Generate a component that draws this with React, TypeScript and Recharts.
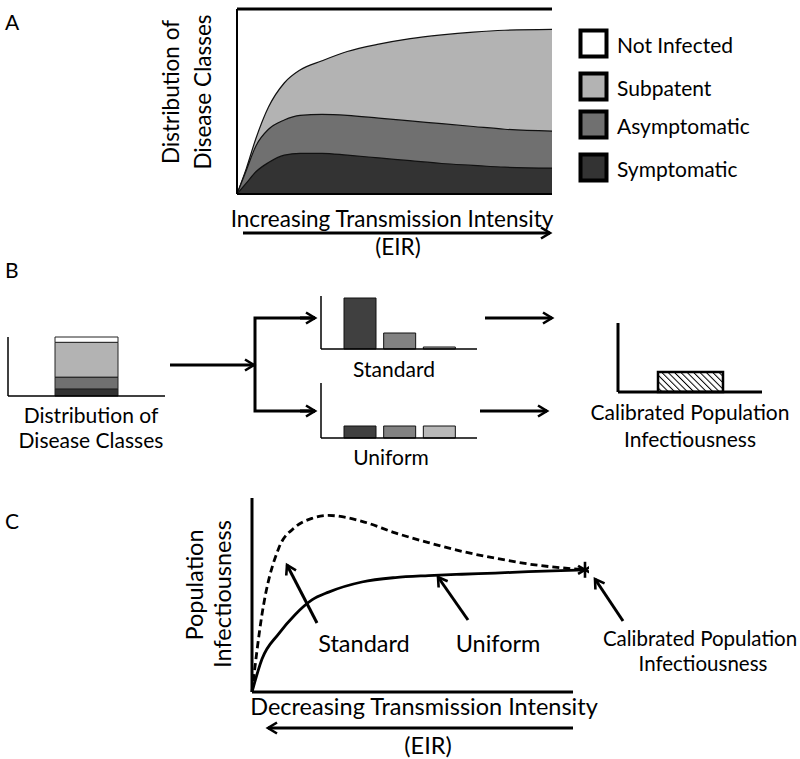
import React from 'react';
import {
  AreaChart, Area, BarChart, Bar, LineChart, Line, XAxis, YAxis, Cell,
  ReferenceLine, ReferenceDot,
} from 'recharts';

// Panel A: share of each disease class (upper edge of each band, %) vs EIR
const eir = [0, 3, 6, 10, 15, 20, 27, 35, 45, 55, 65, 75, 85, 100];
const notInfectedTop = [100, 100, 100, 100, 100, 100, 100, 100, 100, 100, 100, 100, 100, 100];
const subpatentTop = [0, 14, 30, 47, 60, 67, 72, 77, 81, 84, 86, 87.5, 88.5, 89];
const asymptomaticTop = [0, 13, 26, 35, 40, 42.5, 43, 42.5, 41, 39.5, 38, 36.5, 35, 34];
const symptomaticTop = [0, 6, 12, 17, 21, 22, 22, 21, 19.5, 18, 16.5, 15.5, 14.5, 14];

const classNames = ['Not Infected', 'Subpatent', 'Asymptomatic', 'Symptomatic'];
const classColors = ['#ffffff', '#b3b3b3', '#707070', '#333333'];

// Panel B: one distribution (stacked, %)
const distSymptomatic = 12;
const distAsymptomatic = 20;
const distSubpatent = 59;
const distNotInfected = 9;

// Panel B: infectiousness weights per class
const weightClasses = ['Symptomatic', 'Asymptomatic', 'Subpatent'];
const weightColors = ['#404040', '#828282', '#b8b8b8'];
const standardWeights = [51, 16, 2];
const uniformWeights = [12, 12, 12];
const calibratedValue = 20;

// Panel C: population infectiousness vs (decreasing) EIR
const cx = [0, 3, 8, 13, 18, 23, 33, 43, 53, 63, 73, 83, 100];
const standardCurve = [0, 40, 74, 85, 89.5, 91, 88, 82, 77, 72.5, 69, 66, 63];
const uniformCurve = [0, 17, 30, 40, 47.5, 51.5, 56.7, 59, 60, 60.7, 61.3, 62, 63];

const FONT = 'Lato, "Open Sans", sans-serif';

const areaData = eir.map((x, i) => ({
  eir: x,
  notInfected: notInfectedTop[i],
  subpatent: subpatentTop[i],
  asymptomatic: asymptomaticTop[i],
  symptomatic: symptomaticTop[i],
}));

const distData = [{
  name: 'dist',
  symptomatic: distSymptomatic,
  asymptomatic: distAsymptomatic,
  subpatent: distSubpatent,
  notInfected: distNotInfected,
}];

const standardData = weightClasses.map((c, i) => ({ name: c, value: standardWeights[i] }));
const uniformData = weightClasses.map((c, i) => ({ name: c, value: uniformWeights[i] }));
const calibratedData = [{ name: 'calibrated', value: calibratedValue }];

const lineData = cx.map((x, i) => ({ x, standard: standardCurve[i], uniform: uniformCurve[i] }));

const M = { top: 4, right: 4, bottom: 4, left: 4 };
// bar charts carry a 1px visible axis on left and bottom
const MB = { top: 4, right: 4, bottom: 3, left: 3 };

function Star(props: any) {
  const { cx: x, cy: y } = props;
  const r = 8;
  const lines = [90, 30, -30].map((a) => {
    const rad = (a * Math.PI) / 180;
    return { dx: Math.cos(rad) * r, dy: Math.sin(rad) * r };
  });
  return (
    <g stroke="#000" strokeWidth={2.6}>
      {lines.map((l, i) => (
        <line key={i} x1={x - l.dx} y1={y - l.dy} x2={x + l.dx} y2={y + l.dy} />
      ))}
    </g>
  );
}

function WeightChart({ data, top, max }: { data: any[]; top: number; max: number }) {
  return (
    <div style={{ position: 'absolute', left: 317, top }}>
      <BarChart width={164} height={max + 8} data={data} margin={MB} barSize={32}>
        <XAxis dataKey="name" tick={false} tickLine={false} height={1} padding={{ left: 19, right: 18 }}
          axisLine={{ stroke: '#000', strokeWidth: 1.5 }} />
        <YAxis domain={[0, max]} tick={false} tickLine={false} width={1}
          axisLine={{ stroke: '#000', strokeWidth: 1.5 }} />
        <Bar dataKey="value" isAnimationActive={false} stroke="#111" strokeWidth={1}>
          {data.map((d, i) => <Cell key={d.name} fill={weightColors[i]} />)}
        </Bar>
      </BarChart>
    </div>
  );
}

export default function App() {
  const t = { fontFamily: FONT, fontSize: 21, fill: '#000' } as const;
  const tA = { ...t, fontSize: 22.5 };
  const tC = { ...t, fontSize: 23.5 };
  return (
    <div style={{ position: 'absolute', left: 0, top: 0, width: 800, height: 759, background: '#fff' }}>
      {/* Panel A */}
      <div style={{ position: 'absolute', left: 233, top: 5 }}>
        <AreaChart width={323} height={193} data={areaData} margin={M}>
          <XAxis type="number" dataKey="eir" domain={[0, 100]} hide />
          <YAxis domain={[0, 100]} hide />
          <Area type="monotone" dataKey="notInfected" fill={classColors[0]} fillOpacity={1}
            stroke="#000" strokeWidth={3} isAnimationActive={false} />
          <Area type="monotone" dataKey="subpatent" fill={classColors[1]} fillOpacity={1}
            stroke="#111" strokeWidth={1.2} isAnimationActive={false} />
          <Area type="monotone" dataKey="asymptomatic" fill={classColors[2]} fillOpacity={1}
            stroke="#111" strokeWidth={1.2} isAnimationActive={false} />
          <Area type="monotone" dataKey="symptomatic" fill={classColors[3]} fillOpacity={1}
            stroke="#111" strokeWidth={1.2} isAnimationActive={false} />
          <ReferenceLine x={0} stroke="#000" strokeWidth={2} />
          <ReferenceLine y={0} stroke="#000" strokeWidth={2} />
        </AreaChart>
      </div>

      {/* Panel B: distribution */}
      <div style={{ position: 'absolute', left: 4, top: 333 }}>
        <BarChart width={165} height={67} data={distData} margin={MB} barSize={63}>
          <XAxis dataKey="name" tick={false} tickLine={false} height={1}
            axisLine={{ stroke: '#000', strokeWidth: 1.5 }} />
          <YAxis domain={[0, 100]} tick={false} tickLine={false} width={1}
            axisLine={{ stroke: '#000', strokeWidth: 1.5 }} />
          <Bar dataKey="symptomatic" stackId="d" fill={classColors[3]} stroke="#222" strokeWidth={1} isAnimationActive={false} />
          <Bar dataKey="asymptomatic" stackId="d" fill={classColors[2]} stroke="#222" strokeWidth={1} isAnimationActive={false} />
          <Bar dataKey="subpatent" stackId="d" fill={classColors[1]} stroke="#222" strokeWidth={1} isAnimationActive={false} />
          <Bar dataKey="notInfected" stackId="d" fill={classColors[0]} stroke="#222" strokeWidth={1} isAnimationActive={false} />
        </BarChart>
      </div>

      <WeightChart data={standardData} top={292} max={53} />
      <WeightChart data={uniformData} top={379} max={55} />

      {/* Panel B: calibrated */}
      <div style={{ position: 'absolute', left: 614, top: 319 }}>
        <BarChart width={152} height={77} data={calibratedData} margin={MB} barSize={65}>
          <defs>
            <pattern id="hatch" patternUnits="userSpaceOnUse" width={4.5} height={4.5} patternTransform="rotate(-45)">
              <rect width={4.5} height={4.5} fill="#fff" />
              <line x1={0} y1={0} x2={0} y2={4.5} stroke="#000" strokeWidth={2} />
            </pattern>
          </defs>
          <XAxis dataKey="name" tick={false} tickLine={false} height={1}
            axisLine={{ stroke: '#000', strokeWidth: 3 }} />
          <YAxis domain={[0, 69]} tick={false} tickLine={false} width={1}
            axisLine={{ stroke: '#000', strokeWidth: 3 }} />
          <Bar dataKey="value" fill="url(#hatch)" stroke="#000" strokeWidth={2.5} isAnimationActive={false} />
        </BarChart>
      </div>

      {/* Panel C */}
      <div style={{ position: 'absolute', left: 248, top: 494 }}>
        <LineChart width={341} height={202} data={lineData} margin={M}>
          <XAxis type="number" dataKey="x" domain={[0, 100]} hide />
          <YAxis domain={[0, 100]} hide />
          <ReferenceLine x={0} stroke="#000" strokeWidth={3} />
          <ReferenceLine segment={[{ x: 0, y: 0 }, { x: 96.4, y: 0 }]} stroke="#000" strokeWidth={3} />
          <Line type="monotone" dataKey="standard" stroke="#000" strokeWidth={2.8} strokeDasharray="7 4"
            dot={false} isAnimationActive={false} />
          <Line type="monotone" dataKey="uniform" stroke="#000" strokeWidth={2.8}
            dot={false} isAnimationActive={false} />
          <ReferenceDot x={100} y={uniformCurve[uniformCurve.length - 1]} r={8} shape={Star} />
        </LineChart>
      </div>

      {/* Labels, legend and arrows */}
      <svg width={800} height={759} style={{ position: 'absolute', left: 0, top: 0, pointerEvents: 'none' }}>
        <defs>
          <marker id="head" markerUnits="userSpaceOnUse" markerWidth={14} markerHeight={14}
            refX={11} refY={7} orient="auto">
            <path d="M2,1.5 L11,7 L2,12.5" fill="none" stroke="#000" strokeWidth={2.6} />
          </marker>
        </defs>

        <text x={5} y={30} {...t}>A</text>
        <text x={5} y={278} {...t}>B</text>
        <text x={5} y={529} {...t}>C</text>

        {/* A */}
        <text transform="translate(179,92) rotate(-90)" textAnchor="middle" {...tA}>Distribution of</text>
        <text transform="translate(211,92) rotate(-90)" textAnchor="middle" {...tA}>Disease Classes</text>
        <text x={392} y={227} textAnchor="middle" {...tA}>Increasing Transmission Intensity</text>
        <line x1={243} y1={233} x2={550} y2={233} stroke="#000" strokeWidth={3} markerEnd="url(#head)" />
        <text x={398} y={255} textAnchor="middle" {...tA}>(EIR)</text>
        {classNames.map((name, i) => {
          const ys = [30.5, 73.5, 111.5, 154.5];
          return (
            <g key={name}>
              <rect x={580.5} y={ys[i]} width={26} height={26} fill={classColors[i]} stroke="#000" strokeWidth={4} />
              <text x={617} y={ys[i] + 22} {...t}>{name}</text>
            </g>
          );
        })}

        {/* B */}
        <text x={91} y={423} textAnchor="middle" {...t}>Distribution of</text>
        <text x={91} y={448} textAnchor="middle" {...t}>Disease Classes</text>
        <line x1={170} y1={365} x2={254} y2={365} stroke="#000" strokeWidth={3} markerEnd="url(#head)" />
        <path d="M315,318 L255,318 L255,411 L315,411" fill="none" stroke="#000" strokeWidth={3} />
        <line x1={300} y1={318} x2={315} y2={318} stroke="#000" strokeWidth={3} markerEnd="url(#head)" />
        <line x1={300} y1={411} x2={315} y2={411} stroke="#000" strokeWidth={3} markerEnd="url(#head)" />
        <text x={394} y={377} textAnchor="middle" {...t}>Standard</text>
        <text x={391} y={465} textAnchor="middle" {...t}>Uniform</text>
        <line x1={485} y1={318} x2={552} y2={318} stroke="#000" strokeWidth={3} markerEnd="url(#head)" />
        <line x1={480} y1={411} x2={547} y2={411} stroke="#000" strokeWidth={3} markerEnd="url(#head)" />
        <text x={690} y={420} textAnchor="middle" {...t}>Calibrated Population</text>
        <text x={690} y={447} textAnchor="middle" {...t}>Infectiousness</text>

        {/* C */}
        <text transform="translate(203,585) rotate(-90)" textAnchor="middle" {...tC}>Population</text>
        <text transform="translate(231,594) rotate(-90)" textAnchor="middle" {...tC}>Infectiousness</text>
        <line x1={317} y1={623} x2={287} y2={565} stroke="#000" strokeWidth={3} markerEnd="url(#head)" />
        <line x1={468} y1={620} x2={438} y2={577} stroke="#000" strokeWidth={3} markerEnd="url(#head)" />
        <line x1={623} y1={621} x2={595} y2={579} stroke="#000" strokeWidth={3} markerEnd="url(#head)" />
        <text x={364} y={652} textAnchor="middle" {...tC}>Standard</text>
        <text x={498} y={652} textAnchor="middle" {...tC}>Uniform</text>
        <text x={700} y={646} textAnchor="middle" {...t} fontSize={20.5}>Calibrated Population</text>
        <text x={703} y={671} textAnchor="middle" {...t} fontSize={20.5}>Infectiousness</text>
        <text x={424} y={715} textAnchor="middle" {...tC}>Decreasing Transmission Intensity</text>
        <line x1={573} y1={728} x2={268} y2={728} stroke="#000" strokeWidth={3} markerEnd="url(#head)" />
        <text x={428} y={754} textAnchor="middle" {...tC}>(EIR)</text>
      </svg>
    </div>
  );
}
